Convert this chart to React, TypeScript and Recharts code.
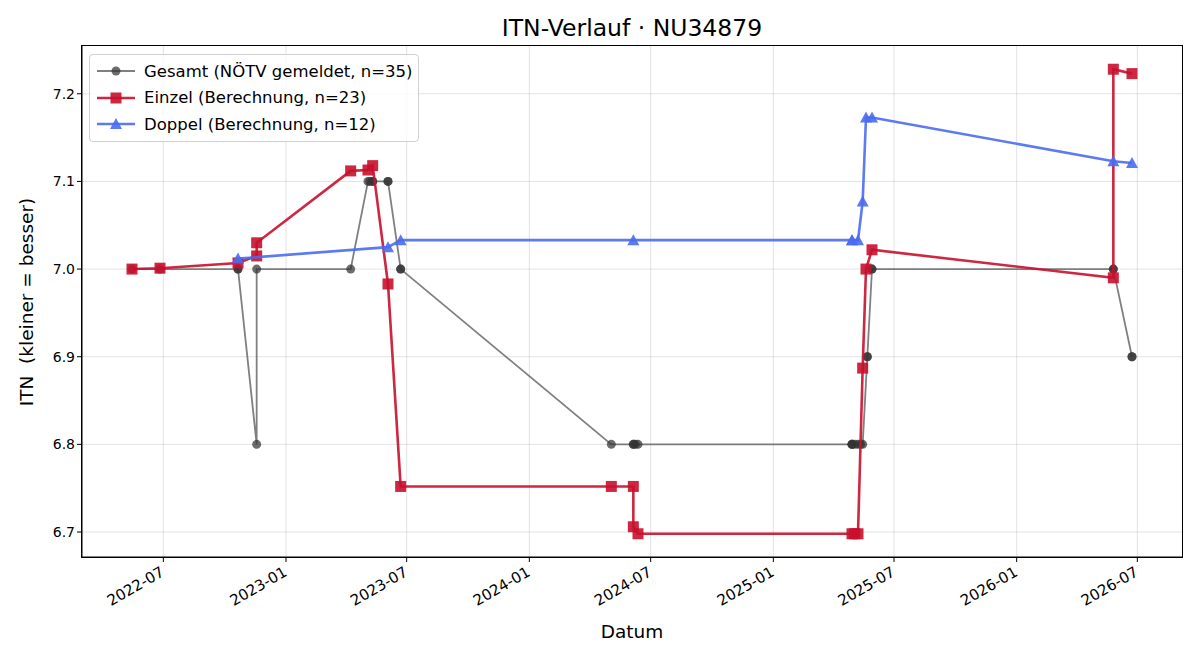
import React from "react";
import {
  ScatterChart,
  Scatter,
  XAxis,
  YAxis,
  CartesianGrid,
} from "recharts";

// Gesamt: reported values (NÖTV), n=35
const gesamtDates = [
  "2022-05-15", "2022-06-26", "2022-10-21", "2022-10-21", "2022-11-18",
  "2022-11-18", "2023-04-08", "2023-05-04", "2023-05-07", "2023-05-11",
  "2023-05-11", "2023-06-03", "2023-06-03", "2023-06-22", "2023-06-22",
  "2024-05-03", "2024-06-05", "2024-06-05", "2024-06-08", "2024-06-12",
  "2025-04-29", "2025-04-29", "2025-04-29", "2025-05-03", "2025-05-08",
  "2025-05-12", "2025-05-15", "2025-05-22", "2025-05-22", "2025-05-29",
  "2025-05-29", "2026-05-26", "2026-05-26", "2026-06-23", "2026-06-23",
];
const gesamtValues = [
  7.0, 7.0, 7.0, 7.0, 6.8,
  7.0, 7.0, 7.1, 7.1, 7.1,
  7.1, 7.1, 7.1, 7.0, 7.0,
  6.8, 6.8, 6.8, 6.8, 6.8,
  6.8, 6.8, 6.8, 6.8, 6.8,
  6.8, 6.8, 6.9, 6.9, 7.0,
  7.0, 7.0, 7.0, 6.9, 6.9,
];

// Einzel: calculated singles rating, n=23
const einzelDates = [
  "2022-05-15", "2022-06-26", "2022-10-21", "2022-11-18", "2022-11-18",
  "2023-04-08", "2023-05-04", "2023-05-11", "2023-06-03", "2023-06-22",
  "2024-05-03", "2024-06-05", "2024-06-05", "2024-06-12", "2025-04-29",
  "2025-05-03", "2025-05-08", "2025-05-15", "2025-05-20", "2025-05-29",
  "2026-05-26", "2026-05-26", "2026-06-23",
];
const einzelValues = [
  7.0, 7.001, 7.007, 7.015, 7.03,
  7.112, 7.113, 7.118, 6.983, 6.752,
  6.752, 6.752, 6.706, 6.698, 6.698,
  6.698, 6.698, 6.887, 7.0, 7.022,
  6.99, 7.228, 7.223,
];

// Doppel: calculated doubles rating, n=12
const doppelDates = [
  "2022-10-21", "2023-06-03", "2023-06-22", "2024-06-05", "2025-04-29",
  "2025-04-29", "2025-05-08", "2025-05-15", "2025-05-20", "2025-05-29",
  "2026-05-26", "2026-06-23",
];
const doppelValues = [
  7.012, 7.025, 7.033, 7.033, 7.033,
  7.033, 7.033, 7.077, 7.173, 7.173,
  7.123, 7.121,
];

const xTickLabels = [
  "2022-07", "2023-01", "2023-07", "2024-01", "2024-07",
  "2025-01", "2025-07", "2026-01", "2026-07",
];
const yTicks = [6.7, 6.8, 6.9, 7.0, 7.1, 7.2];

const GREY = "#555555";
const RED = "#c8102e";
const BLUE = "#4a6cf0";
const FONT = "'DejaVu Sans', sans-serif";

const toTs = (d: string) => Date.parse(d + "T00:00:00Z");

const rows = (dates: string[], values: number[]) =>
  dates.map((d, i) => ({ t: toTs(d), v: values[i] }));

const gesamt = rows(gesamtDates, gesamtValues);
const einzel = rows(einzelDates, einzelValues);
const doppel = rows(doppelDates, doppelValues);

// 5% padding on both axes, like the default autoscale margins
const allT = [...gesamt, ...einzel, ...doppel].map((r) => r.t);
const allV = [...gesamt, ...einzel, ...doppel].map((r) => r.v);
const tMin = Math.min(...allT);
const tMax = Math.max(...allT);
const vMin = Math.min(...allV);
const vMax = Math.max(...allV);
const tPad = (tMax - tMin) * 0.05;
const vPad = (vMax - vMin) * 0.05;
const xDomain = [tMin - tPad, tMax + tPad];
const yDomain = [vMin - vPad, vMax + vPad];
const xTicks = xTickLabels.map((m) => toTs(m + "-01"));

const fmtMonth = (ts: number) => {
  const d = new Date(ts);
  return `${d.getUTCFullYear()}-${String(d.getUTCMonth() + 1).padStart(2, "0")}`;
};

const PLOT = { left: 82, top: 46, right: 1182, bottom: 557 };

const Dot = ({ cx, cy }: any) => (
  <circle cx={cx} cy={cy} r={4.5} fill="#333333" fillOpacity={0.72} />
);
const Square = ({ cx, cy }: any) => (
  <rect x={cx - 5.5} y={cy - 5.5} width={11} height={11} fill={RED} fillOpacity={0.9} />
);
const Triangle = ({ cx, cy }: any) => (
  <path
    d={`M${cx},${cy - 6} L${cx + 6},${cy + 5} L${cx - 6},${cy + 5} Z`}
    fill={BLUE}
    fillOpacity={0.9}
  />
);

// rotated date labels, right end sitting under the tick
const XTick = ({ x, y, payload }: any) => {
  const ax = x + 2;
  const ay = PLOT.bottom + 18;
  return (
    <text
      x={ax}
      y={ay}
      textAnchor="end"
      fontSize={15}
      fontFamily={FONT}
      fill="#000"
      transform={`rotate(-30, ${ax}, ${ay})`}
    >
      {fmtMonth(payload.value)}
    </text>
  );
};

const legendItems = [
  { label: "Gesamt (NÖTV gemeldet, n=35)", color: GREY, marker: "circle" },
  { label: "Einzel (Berechnung, n=23)", color: RED, marker: "square" },
  { label: "Doppel (Berechnung, n=12)", color: BLUE, marker: "triangle" },
];

const LegendBox = () => (
  <div
    style={{
      position: "absolute",
      left: 89,
      top: 54,
      background: "rgba(255,255,255,0.8)",
      border: "1px solid #d0d0d0",
      borderRadius: 4,
      padding: "3px 5px 3px 7px",
      fontFamily: FONT,
      fontSize: 16.5,
      color: "#000",
    }}
  >
    {legendItems.map((it) => (
      <div key={it.label} style={{ display: "flex", alignItems: "center", height: 26.5 }}>
        <svg width={38} height={14} style={{ marginRight: 9 }}>
          <line
            x1={0}
            x2={38}
            y1={7}
            y2={7}
            stroke={it.color}
            strokeWidth={it.marker === "circle" ? 1.8 : 2.6}
            strokeOpacity={it.marker === "circle" ? 0.75 : 0.9}
          />
          {it.marker === "circle" && <Dot cx={19} cy={7} />}
          {it.marker === "square" && <Square cx={19} cy={7} />}
          {it.marker === "triangle" && <Triangle cx={19} cy={7} />}
        </svg>
        <span>{it.label}</span>
      </div>
    ))}
  </div>
);

export default function App() {
  return (
    <div
      style={{
        position: "absolute",
        left: 0,
        top: 0,
        width: 1200,
        height: 660,
        background: "#fff",
        fontFamily: FONT,
      }}
    >
      <div
        style={{
          position: "absolute",
          top: 14,
          left: PLOT.left,
          width: PLOT.right - PLOT.left,
          textAlign: "center",
          fontSize: 23.5,
        }}
      >
        ITN-Verlauf · NU34879
      </div>
      <div
        style={{
          position: "absolute",
          top: 621,
          left: PLOT.left,
          width: PLOT.right - PLOT.left,
          textAlign: "center",
          fontSize: 18.5,
        }}
      >
        Datum
      </div>
      <div
        style={{
          position: "absolute",
          left: 26,
          top: (PLOT.top + PLOT.bottom) / 2,
          transform: "translate(-50%, -50%) rotate(-90deg)",
          whiteSpace: "pre",
          fontSize: 18.5,
        }}
      >
        {"ITN  (kleiner = besser)"}
      </div>
      <ScatterChart
        width={1200}
        height={660}
        margin={{ top: PLOT.top, right: 1200 - PLOT.right, bottom: 660 - PLOT.bottom - 60, left: PLOT.left - 60 }}
        style={{ position: "absolute", left: 0, top: 0 }}
      >
        <CartesianGrid stroke="#b0b0b0" strokeOpacity={0.35} horizontalValues={yTicks} verticalValues={xTicks} />
        <XAxis
          type="number"
          dataKey="t"
          domain={xDomain}
          ticks={xTicks}
          allowDataOverflow
          height={60}
          stroke="#000"
          tickSize={5}
          tick={<XTick />}
          interval={0}
        />
        <YAxis
          type="number"
          dataKey="v"
          domain={yDomain}
          ticks={yTicks}
          allowDataOverflow
          width={60}
          stroke="#000"
          tickSize={5}
          interval={0}
          tickFormatter={(v: number) => v.toFixed(1)}
          tick={{ fontSize: 14, fontFamily: FONT, fill: "#000" }}
        />
        <Scatter
          name="Gesamt"
          data={gesamt}
          line={{ stroke: GREY, strokeWidth: 1.8, strokeOpacity: 0.75 }}
          lineType="joint"
          shape={<Dot />}
          isAnimationActive={false}
        />
        <Scatter
          name="Einzel"
          data={einzel}
          line={{ stroke: RED, strokeWidth: 2.6, strokeOpacity: 0.9 }}
          lineType="joint"
          shape={<Square />}
          isAnimationActive={false}
        />
        <Scatter
          name="Doppel"
          data={doppel}
          line={{ stroke: BLUE, strokeWidth: 2.6, strokeOpacity: 0.9 }}
          lineType="joint"
          shape={<Triangle />}
          isAnimationActive={false}
        />
      </ScatterChart>
      <LegendBox />
      <div
        style={{
          position: "absolute",
          left: PLOT.left - 1,
          top: PLOT.top - 1,
          width: PLOT.right - PLOT.left,
          height: PLOT.bottom - PLOT.top,
          border: "1px solid #000",
          pointerEvents: "none",
        }}
      />
    </div>
  );
}
